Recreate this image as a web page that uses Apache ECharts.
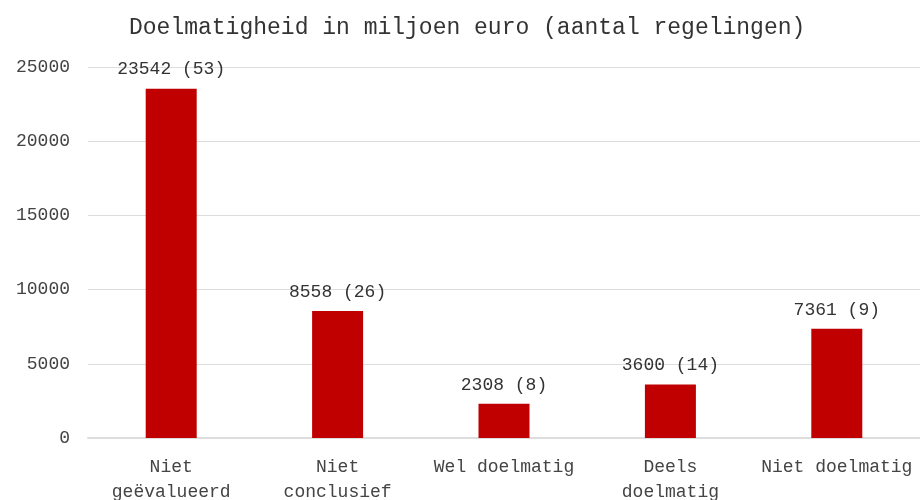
<!DOCTYPE html>
<html>
<head>
<meta charset="utf-8">
<script src="https://cdn.jsdelivr.net/npm/echarts@6/dist/echarts.min.js"></script>
<style>
  html, body { margin: 0; padding: 0; background: #fff; }
  #chart { width: 920px; height: 500px; }
</style>
</head>
<body>
<div id="chart"></div>
<script>
// data
const categories = ['Niet\ngeëvalueerd', 'Niet\nconclusief', 'Wel doelmatig', 'Deels\ndoelmatig', 'Niet doelmatig']
const amounts = [23542, 8558, 2308, 3600, 7361]
const counts = [53, 26, 8, 14, 9]
const yTicks = [0, 5000, 10000, 15000, 20000, 25000]

const font = '"Liberation Mono", "DejaVu Sans Mono", monospace'

const chart = echarts.init(document.getElementById('chart'))

const option = {
  animation: false,
  title: {
    text: 'Doelmatigheid in miljoen euro (aantal regelingen)',
    left: 124,
    top: 11,
    textStyle: {
      fontFamily: font,
      fontSize: 23,
      fontWeight: 'normal',
      color: '#333'
    }
  },
  grid: {
    left: 88,
    right: 0,
    top: 67,
    bottom: 62,
    containLabel: false,
    outerBoundsMode: 'none'
  },
  xAxis: {
    type: 'category',
    data: categories,
    axisLine: { show: true, lineStyle: { color: '#ddd', width: 2 } },
    axisTick: { show: false },
    axisLabel: {
      interval: 0,
      margin: 17,
      fontFamily: font,
      fontSize: 18,
      lineHeight: 25,
      color: '#444'
    }
  },
  yAxis: {
    type: 'value',
    min: yTicks[0],
    max: yTicks[yTicks.length - 1],
    interval: 5000,
    axisLine: { show: false },
    axisTick: { show: false },
    splitLine: { lineStyle: { color: '#ddd', width: 1 } },
    axisLabel: {
      margin: 18,
      fontFamily: font,
      fontSize: 18,
      color: '#444',
      formatter: v => String(v)
    }
  },
  series: [
    {
      type: 'bar',
      data: amounts,
      barWidth: 51,
      itemStyle: { color: '#c00000' },
      label: {
        show: true,
        position: 'top',
        distance: 10,
        fontFamily: font,
        fontSize: 18,
        color: '#333',
        formatter: p => amounts[p.dataIndex] + ' (' + counts[p.dataIndex] + ')'
      }
    }
  ]
}

chart.setOption(option)
</script>
</body>
</html>
